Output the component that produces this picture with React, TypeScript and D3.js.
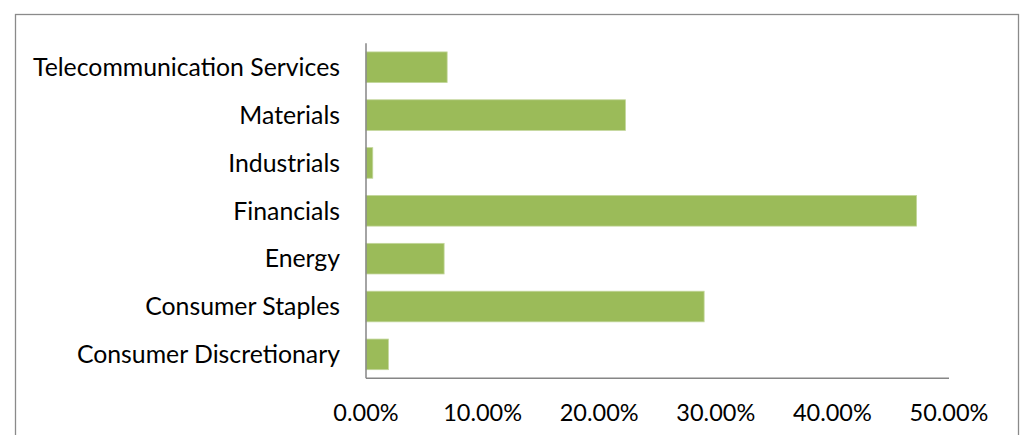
import React from "react";
import * as d3 from "d3";

const categories = [
  "Telecommunication Services",
  "Materials",
  "Industrials",
  "Financials",
  "Energy",
  "Consumer Staples",
  "Consumer Discretionary",
];
const values = [0.0696, 0.2225, 0.0058, 0.4722, 0.067, 0.29, 0.0192];
const tickValues = [0, 0.1, 0.2, 0.3, 0.4, 0.5];

const W = 1026;
const H = 435;
const FONT = "Lato, 'Open Sans', sans-serif";

export default function App() {
  const x = d3.scaleLinear().domain([0, 0.5]).range([366, 949]);
  const y = d3
    .scaleBand<string>()
    .domain(categories)
    .range([43.3, 378.3])
    .paddingInner(0.36)
    .paddingOuter(0.18);
  const fmt = (v: number) => (v * 100).toFixed(2) + "%";

  return (
    <svg
      width={W}
      height={H}
      style={{ position: "absolute", left: 0, top: 0, background: "#fff" }}
    >
      <rect x={15.5} y={14.5} width={1003} height={440} fill="#fff" stroke="#8a8a8a" strokeWidth={1.3} />
      {categories.map((c, i) => (
        <rect
          key={c}
          x={x(0)}
          y={y(c)!}
          width={x(values[i]) - x(0)}
          height={y.bandwidth()}
          fill="#9BBB59"
          stroke="#c3d69b"
          strokeWidth={0.8}
        />
      ))}
      <line x1={366} x2={366} y1={43.3} y2={378.3} stroke="#868686" strokeWidth={1.5} />
      <line x1={366} x2={x(0.5)} y1={378.3} y2={378.3} stroke="#868686" strokeWidth={1.5} />
      {categories.map((c) => (
        <text
          key={c}
          x={340}
          y={y(c)! + y.bandwidth() / 2 + 8.8}
          textAnchor="end"
          fontFamily={FONT}
          fontSize={24.8}
          fill="#000"
        >
          {c}
        </text>
      ))}
      {tickValues.map((t) => (
        <text
          key={t}
          x={x(t)}
          y={421}
          textAnchor="middle"
          fontFamily={FONT}
          fontSize={23.5}
          fill="#000"
        >
          {fmt(t)}
        </text>
      ))}
    </svg>
  );
}
